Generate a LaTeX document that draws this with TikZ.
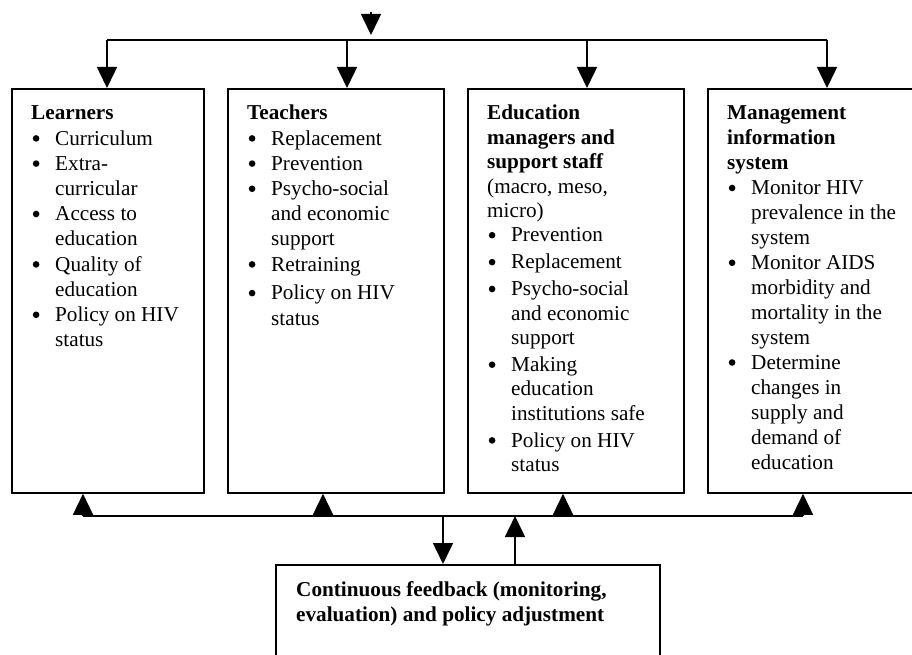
\documentclass[tikz,border=0pt]{standalone}
\usepackage{fontspec}
\setmainfont{Liberation Serif}
\usetikzlibrary{arrows.meta}
\newcommand\bul{\makebox[24pt][l]{\hspace{1.6pt}\tikz[baseline=-6.8pt]\fill (0,0) circle[radius=3.3pt];}}
\newcommand\ind{\hspace*{24pt}}
\begin{document}
\begin{tikzpicture}[x=1pt,y=-1pt,
  box/.style={draw, line width=1.8pt, rectangle, anchor=north west, inner sep=0pt},
  txt/.style={anchor=base west, inner sep=0pt},
  conn/.style={line width=1.5pt},
  arr/.style={line width=1.5pt, -{Triangle[width=20pt,length=21pt]}}]
\useasboundingbox (0,0) rectangle (912,655);
\clip (0,0) rectangle (912,655);
% boxes
\node[box, minimum width=192pt, minimum height=404pt] (L) at (11,88) {};
\node[box, minimum width=216pt, minimum height=404pt] (T) at (227,88) {};
\node[box, minimum width=216pt, minimum height=404pt] (E) at (467,88) {};
\node[box, minimum width=216pt, minimum height=404pt] (M) at (707,88) {};
\node[box, minimum width=384pt, minimum height=130pt] (F) at (275,564) {};
% texts
\node[txt] (Lt) at (31,120) {\parbox[t]{200pt}{\fontsize{21.2}{25.2}\selectfont
\textbf{Learners}\\
\bul Curriculum\\
\bul Extra-\\
\ind curricular\\
\bul Access to\\
\ind education\\
\bul Quality of\\
\ind education\\
\bul Policy on HIV\\
\ind status}};
\node[txt] (Tt) at (247,120) {\parbox[t]{200pt}{\fontsize{21.2}{25.2}\selectfont
\textbf{Teachers}\\
\bul Replacement\\
\bul Prevention\\
\bul Psycho-social\\
\ind and economic\\
\ind support\\
\bul Retraining\\[3.5pt]
\bul Policy on HIV\\
\ind status}};
\node[txt] (Et) at (487,120) {\parbox[t]{200pt}{\fontsize{21.2}{24.4}\selectfont
\textbf{Education}\\
\textbf{managers and}\\
\textbf{support staff}\\
(macro, meso,\\
micro)\\
\bul Prevention\\[2.5pt]
\bul Replacement\\[2.5pt]
\bul Psycho-social\\
\ind and economic\\
\ind support\\[2.5pt]
\bul Making\\
\ind education\\
\ind institutions safe\\[2.5pt]
\bul Policy on HIV\\
\ind status}};
\node[txt] (Mt) at (727,120) {\parbox[t]{200pt}{\fontsize{21.2}{24.93}\selectfont
\textbf{Management}\\
\textbf{information}\\
\textbf{system}\\
\bul Monitor HIV\\
\ind prevalence in the\\
\ind system\\
\bul Monitor AIDS\\
\ind morbidity and\\
\ind mortality in the\\
\ind system\\
\bul Determine\\
\ind changes in\\
\ind supply and\\
\ind demand of\\
\ind education}};
\node[txt] (Ft) at (296,596) {\parbox[t]{400pt}{\fontsize{21.2}{25}\selectfont\bfseries
Continuous feedback (monitoring,\\
evaluation) and policy adjustment}};
% top connectors
\coordinate (in) at (371,12);
\coordinate (inT) at (371,35);
\draw[arr] (in) -- (inT);
\coordinate (t1) at (107,40);
\coordinate (t2) at (347,40);
\coordinate (t3) at (587,40);
\coordinate (t4) at (827,40);
\draw[conn] (t1) -- (t4);
\draw[arr] (t1) -- (t1 |- L.north);
\draw[arr] (t2) -- (t2 |- T.north);
\draw[arr] (t3) -- (t3 |- E.north);
\draw[arr] (t4) -- (t4 |- M.north);
% bottom connectors
\coordinate (b1) at (83,516);
\coordinate (b2) at (323,516);
\coordinate (b3) at (563,516);
\coordinate (b4) at (803,516);
\coordinate (bd) at (443,516);
\coordinate (bu) at (515,516);
\draw[conn] (b1) -- (b4);
\draw[arr] (b1) -- (b1 |- L.south);
\draw[arr] (b2) -- (b2 |- T.south);
\draw[arr] (b3) -- (b3 |- E.south);
\draw[arr] (b4) -- (b4 |- M.south);
\draw[arr] (bd) -- (bd |- F.north);
\draw[arr] (bu |- F.north) -- (bu);
\end{tikzpicture}
\end{document}
